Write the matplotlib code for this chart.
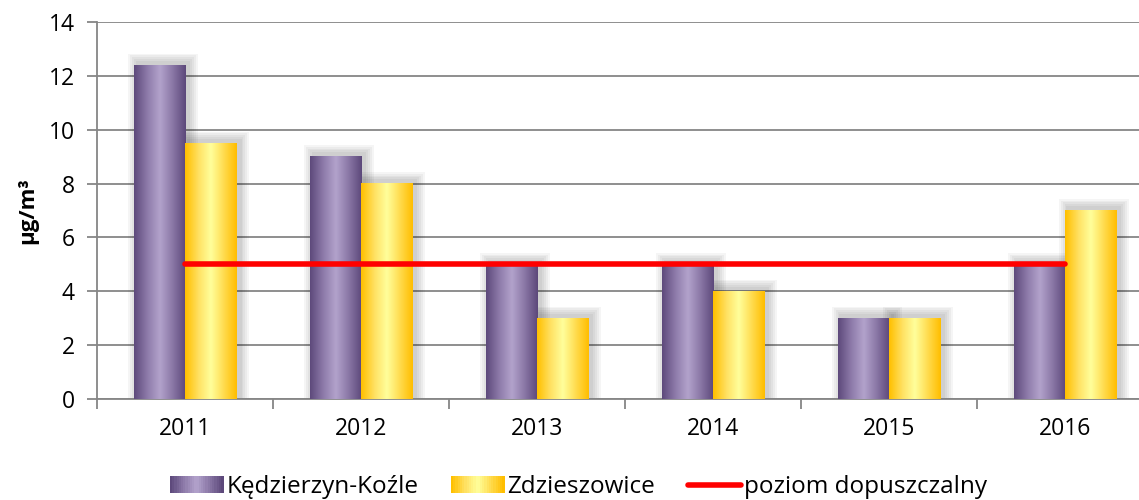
import numpy as np
import matplotlib.pyplot as plt
from matplotlib.colors import LinearSegmentedColormap
from matplotlib.patches import Rectangle
from matplotlib.lines import Line2D
from matplotlib.legend_handler import HandlerBase

plt.rcParams['font.family'] = ['Open Sans', 'DejaVu Sans']

years = ['2011', '2012', '2013', '2014', '2015', '2016']
kedzierzyn = [12.4, 9, 5, 5, 3, 5]
zdzieszowice = [9.5, 8, 3, 4, 3, 7]
limit = [5, 5, 5, 5, 5, 5]

cm_purple = LinearSegmentedColormap.from_list('p', ['#5e4a7c', '#8d7aa9', '#b3a3cc', '#8a77a6', '#5d497b'])
cm_yellow = LinearSegmentedColormap.from_list('y', ['#ffc000', '#ffe060', '#ffff9c', '#ffdc50', '#ffbe00'])

fig = plt.figure(figsize=(11.39, 5.0), dpi=100)
ax = fig.add_axes([0.0852, 0.202, 0.927, 0.754])

x = np.arange(len(years))
w = 0.29
grad = np.linspace(0, 1, 64).reshape(1, -1)


def gradient_bar(xc, h, cmap):
    x0, x1 = xc - w / 2, xc + w / 2
    # miekki cien
    for k in range(5):
        pad = 0.011 * (k + 1)
        ax.add_patch(Rectangle((x0 + 0.02 - pad, 0), (x1 - x0) + 2 * pad, h + 0.1 + pad * 6,
                               facecolor='black', alpha=0.04, lw=0, zorder=2))
    ax.imshow(grad, extent=[x0, x1, 0, h], aspect='auto', cmap=cmap, zorder=3,
              interpolation='bicubic')


for i in range(len(years)):
    gradient_bar(x[i] - w / 2, kedzierzyn[i], cm_purple)
    gradient_bar(x[i] + w / 2, zdzieszowice[i], cm_yellow)

ax.plot(x, limit, color='#ff0000', lw=4, solid_capstyle='round', zorder=5)

ax.set_xlim(-0.5, 5.5)
ax.set_ylim(0, 14)
ax.set_yticks(range(0, 15, 2))
ax.set_xticks(x)
ax.set_xticklabels(years)
ax.set_xticks(np.arange(-0.5, 6, 1), minor=True)
ax.tick_params(axis='x', which='major', length=0, pad=13, labelsize=16.5)
ax.tick_params(axis='x', which='minor', length=7, color='#868686', width=1.3)
ax.tick_params(axis='y', length=7, color='#868686', width=1.3, labelsize=16.5, pad=9)
ax.yaxis.grid(True, color='#868686', lw=1.3, zorder=1)
ax.set_axisbelow(True)
for s in ['top', 'right']:
    ax.spines[s].set_visible(False)
for s in ['left', 'bottom']:
    ax.spines[s].set_color('#868686')
    ax.spines[s].set_linewidth(1.3)
ax.set_ylabel('µg/m³', fontsize=16, fontweight='bold')
ax.yaxis.set_label_coords(-0.056, 0.5)


class GradHandler(HandlerBase):
    def __init__(self, cmap):
        super().__init__()
        self.cmap = cmap

    def create_artists(self, legend, orig_handle, xdescent, ydescent, width, height, fontsize, trans):
        n = 24
        arts = []
        for j in range(n):
            r = Rectangle((-xdescent + width * j / n, -ydescent), width / n + 0.3, height,
                          facecolor=self.cmap(j / (n - 1)), lw=0, transform=trans)
            arts.append(r)
        return arts


hp = Rectangle((0, 0), 1, 1)
hy = Rectangle((0, 0), 1, 1)
hl = Line2D([0], [0], color='#ff0000', lw=4, solid_capstyle='round')
fig.legend([hp, hy, hl], ['Kędzierzyn-Koźle', 'Zdzieszowice', 'poziom dopuszczalny'],
           loc='center', bbox_to_anchor=(0.508, 0.026), ncol=3, frameon=False, fontsize=17.5,
           handlelength=2.2, handleheight=0.65, handletextpad=0.12, columnspacing=1.35,
           handler_map={hp: GradHandler(cm_purple), hy: GradHandler(cm_yellow)})

fig.savefig('out.png', dpi=100)
